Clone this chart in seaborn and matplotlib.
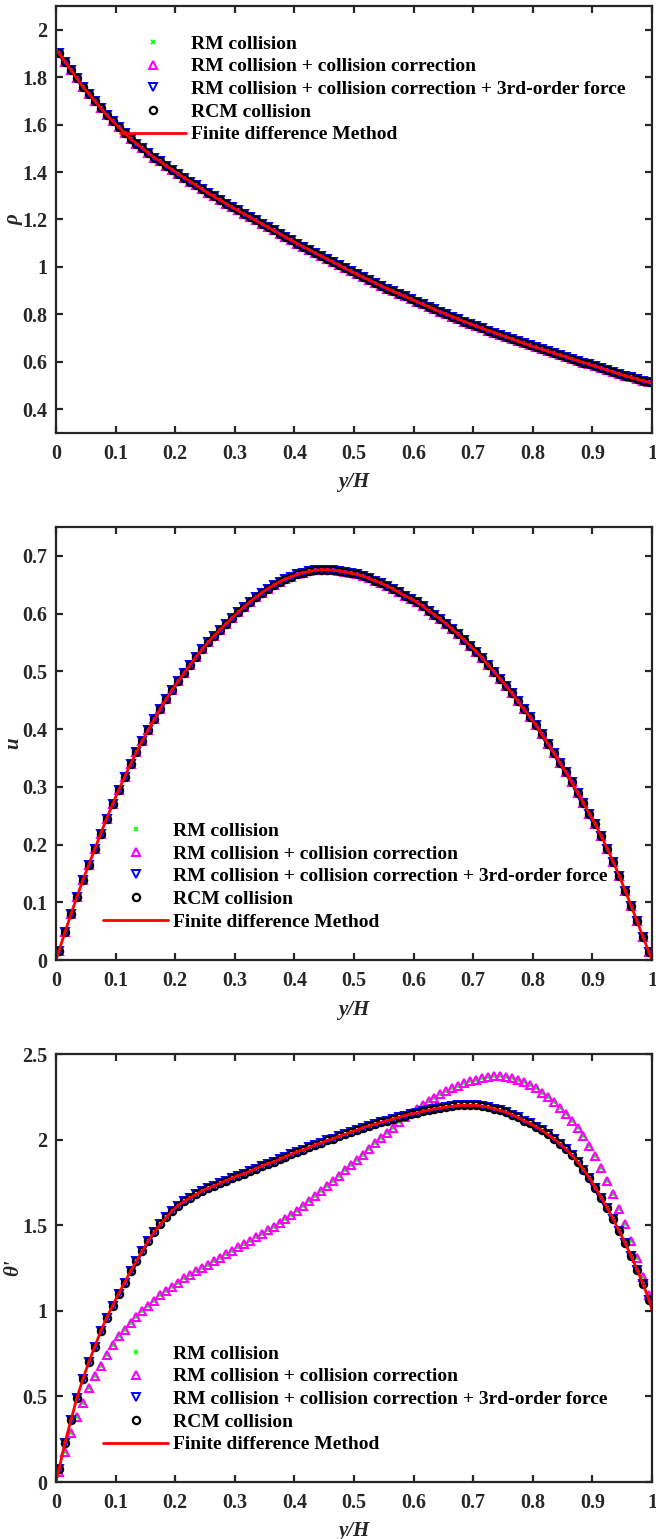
import numpy as np
import pandas as pd
import matplotlib
matplotlib.use("Agg")
import matplotlib.pyplot as plt
import seaborn as sns

# ---------------- data ----------------
# marker positions y/H (cell centres)
yh = (np.arange(100) + 0.5) / 100.0
walls = [0.0, 1.0]

series_labels = ["RM collision",
                 "RM collision + collision correction",
                 "RM collision + collision correction + 3rd-order force",
                 "RCM collision",
                 "Finite difference Method"]

rho = [1.900, 1.865, 1.830, 1.795, 1.760, 1.730, 1.700, 1.670, 1.640, 1.615,
       1.590, 1.565, 1.540, 1.520, 1.500, 1.480, 1.460, 1.445, 1.425, 1.410,
       1.392, 1.376, 1.360, 1.344, 1.328, 1.312, 1.297, 1.282, 1.267, 1.252,
       1.238, 1.224, 1.210, 1.196, 1.182, 1.168, 1.154, 1.140, 1.126, 1.112,
       1.098, 1.085, 1.072, 1.059, 1.046, 1.033, 1.020, 1.007, 0.994, 0.981,
       0.969, 0.957, 0.945, 0.933, 0.921, 0.909, 0.898, 0.887, 0.876, 0.865,
       0.854, 0.843, 0.832, 0.821, 0.810, 0.800, 0.790, 0.780, 0.770, 0.760,
       0.750, 0.741, 0.732, 0.723, 0.714, 0.705, 0.696, 0.687, 0.678, 0.669,
       0.661, 0.653, 0.645, 0.637, 0.629, 0.621, 0.613, 0.605, 0.597, 0.589,
       0.581, 0.573, 0.565, 0.557, 0.549, 0.541, 0.534, 0.527, 0.520, 0.513]
rho_wall = [1.92, 0.51]

u = [0.016, 0.048, 0.079, 0.109, 0.138, 0.165, 0.192, 0.219, 0.245, 0.270,
     0.294, 0.317, 0.339, 0.360, 0.380, 0.399, 0.417, 0.435, 0.452, 0.468,
     0.483, 0.497, 0.511, 0.525, 0.538, 0.550, 0.561, 0.572, 0.582, 0.592,
     0.602, 0.611, 0.620, 0.628, 0.636, 0.643, 0.649, 0.655, 0.660, 0.664,
     0.668, 0.671, 0.673, 0.675, 0.676, 0.676, 0.675, 0.674, 0.672, 0.670,
     0.668, 0.665, 0.661, 0.657, 0.653, 0.648, 0.643, 0.637, 0.631, 0.626,
     0.620, 0.613, 0.605, 0.598, 0.590, 0.582, 0.573, 0.564, 0.554, 0.544,
     0.534, 0.523, 0.511, 0.499, 0.487, 0.475, 0.462, 0.448, 0.434, 0.421,
     0.407, 0.391, 0.375, 0.359, 0.342, 0.326, 0.308, 0.290, 0.272, 0.253,
     0.235, 0.214, 0.193, 0.170, 0.146, 0.120, 0.094, 0.067, 0.040, 0.013]
u_wall = [0.0, 0.0]

theta = [0.074, 0.230, 0.360, 0.490, 0.600, 0.700, 0.790, 0.880, 0.960, 1.030,
         1.100, 1.165, 1.230, 1.290, 1.350, 1.410, 1.460, 1.505, 1.545, 1.585,
         1.615, 1.640, 1.660, 1.680, 1.700, 1.715, 1.730, 1.745, 1.760, 1.775,
         1.790, 1.800, 1.815, 1.830, 1.845, 1.860, 1.870, 1.885, 1.900, 1.915,
         1.930, 1.940, 1.955, 1.970, 1.980, 1.995, 2.005, 2.020, 2.030, 2.045,
         2.055, 2.070, 2.080, 2.090, 2.100, 2.110, 2.120, 2.130, 2.140, 2.150,
         2.155, 2.165, 2.170, 2.180, 2.185, 2.190, 2.195, 2.200, 2.200, 2.200,
         2.200, 2.195, 2.190, 2.180, 2.170, 2.160, 2.145, 2.130, 2.110, 2.095,
         2.075, 2.055, 2.030, 2.005, 1.975, 1.945, 1.910, 1.870, 1.825, 1.775,
         1.720, 1.660, 1.600, 1.535, 1.465, 1.395, 1.320, 1.240, 1.155, 1.065]
theta_corr = [0.060, 0.175, 0.285, 0.380, 0.460, 0.550, 0.620, 0.680, 0.740, 0.800,
              0.850, 0.890, 0.930, 0.965, 1.000, 1.030, 1.060, 1.090, 1.115, 1.140,
              1.165, 1.190, 1.210, 1.230, 1.250, 1.270, 1.290, 1.310, 1.330, 1.350,
              1.370, 1.390, 1.410, 1.430, 1.450, 1.470, 1.490, 1.510, 1.535, 1.560,
              1.585, 1.610, 1.640, 1.670, 1.700, 1.730, 1.760, 1.790, 1.820, 1.850,
              1.880, 1.910, 1.945, 1.980, 2.010, 2.040, 2.070, 2.100, 2.130, 2.155,
              2.180, 2.200, 2.225, 2.245, 2.265, 2.285, 2.300, 2.315, 2.330, 2.340,
              2.350, 2.360, 2.365, 2.370, 2.370, 2.365, 2.360, 2.350, 2.335, 2.320,
              2.300, 2.275, 2.250, 2.220, 2.185, 2.150, 2.110, 2.070, 2.020, 1.965,
              1.905, 1.835, 1.760, 1.680, 1.595, 1.505, 1.410, 1.310, 1.200, 1.090]
theta_wall = [0.0, 1.0]

xticks = [0, 0.1, 0.2, 0.3, 0.4, 0.5, 0.6, 0.7, 0.8, 0.9, 1]
xtick_labels = ["0", "0.1", "0.2", "0.3", "0.4", "0.5", "0.6", "0.7", "0.8", "0.9", "1"]
rho_ticks = [0.4, 0.6, 0.8, 1.0, 1.2, 1.4, 1.6, 1.8, 2.0]
rho_tick_labels = ["0.4", "0.6", "0.8", "1", "1.2", "1.4", "1.6", "1.8", "2"]
u_ticks = [0, 0.1, 0.2, 0.3, 0.4, 0.5, 0.6, 0.7]
u_tick_labels = ["0", "0.1", "0.2", "0.3", "0.4", "0.5", "0.6", "0.7"]
th_ticks = [0, 0.5, 1.0, 1.5, 2.0, 2.5]
th_tick_labels = ["0", "0.5", "1", "1.5", "2", "2.5"]

# ---------------- style ----------------
sns.set_theme(style="ticks")
plt.rcParams['font.family'] = ['Liberation Serif', 'DejaVu Serif']
plt.rcParams['font.weight'] = 'bold'
DARK = '#262626'

fig = plt.figure(figsize=(6.56, 15.39), dpi=100)
W, H = 656.0, 1539.0
left, right = 56, 652
panels = [(6, 433), (527, 960), (1054, 1482)]
axes = [fig.add_axes([left / W, 1 - b / H, (right - left) / W, (b - t) / H]) for t, b in panels]


def draw(ax, rm, corr, third, rcm, fd, fd_wall):
    mk = dict(linestyle='none', sort=False, estimator=None, legend=False)
    sns.lineplot(x=yh, y=rm, ax=ax, marker='x', markersize=3.5, markeredgewidth=1.2,
                 color='#00ff00', markeredgecolor='#00ff00', label=series_labels[0], **mk)
    sns.lineplot(x=yh, y=corr, ax=ax, marker='^', markersize=6.2, markeredgewidth=1.5,
                 color='#ff00ff', markerfacecolor='none', markeredgecolor='#ff00ff',
                 label=series_labels[1], **mk)
    sns.lineplot(x=yh, y=third, ax=ax, marker='v', markersize=5.8, markeredgewidth=1.4,
                 color='#0000ff', markerfacecolor='none', markeredgecolor='#0000ff',
                 label=series_labels[2], **mk)
    sns.lineplot(x=yh, y=rcm, ax=ax, marker='o', markersize=5.2, markeredgewidth=1.6,
                 color='black', markerfacecolor='none', markeredgecolor='black',
                 label=series_labels[3], **mk)
    xf = np.concatenate([[walls[0]], yh, [walls[1]]])
    yf = np.concatenate([[fd_wall[0]], fd, [fd_wall[1]]])
    sns.lineplot(x=xf, y=yf, ax=ax, color='#ff0000', linewidth=2.0, sort=False,
                 estimator=None, legend=False, label=series_labels[4])


draw(axes[0], rho, rho, rho, rho, rho, rho_wall)
draw(axes[1], u, u, u, u, u, u_wall)
draw(axes[2], theta_corr, theta_corr, theta, theta, theta, theta_wall)

ylims = [(0.3, 2.1), (0, 0.75), (0, 2.5)]
yticks = [(rho_ticks, rho_tick_labels), (u_ticks, u_tick_labels), (th_ticks, th_tick_labels)]
ylabels = ['ρ', 'u', "θ'"]
legend_anchor = [(0.108, 0.932), (0.079, 0.318), (0.079, 0.320)]

for i, ax in enumerate(axes):
    ax.set_xlim(0, 1)
    ax.set_ylim(*ylims[i])
    ax.set_xticks(xticks)
    ax.set_xticklabels(xtick_labels)
    ax.set_yticks(yticks[i][0])
    ax.set_yticklabels(yticks[i][1])
    for s in ax.spines.values():
        s.set_visible(True)
        s.set_color(DARK)
        s.set_linewidth(1.6)
    ax.tick_params(direction='in', length=5, width=1.6, top=True, right=True,
                   colors=DARK, labelsize=14.5)
    ax.tick_params(axis='x', pad=8)
    ax.tick_params(axis='y', pad=6)
    for lab in ax.get_xticklabels() + ax.get_yticklabels():
        lab.set_fontweight('bold')
        lab.set_color(DARK)
    ax.set_xlabel('y/H', fontsize=15, fontweight='bold', style='italic', color=DARK)
    ax.xaxis.set_label_coords(0.5, -0.092)
    ax.set_ylabel(ylabels[i], fontsize=15, fontweight='bold', style='italic', color=DARK)
    ax.yaxis.set_label_coords(-0.055, 0.5)
    leg = ax.legend(loc='upper left', bbox_to_anchor=legend_anchor[i], frameon=False,
                    handlelength=3.35, handletextpad=0.26, labelspacing=0.26,
                    borderaxespad=0, borderpad=0, numpoints=1,
                    prop=dict(weight='bold', size=14))
    for t in leg.get_texts():
        t.set_color('black')

fig.savefig('out.png', dpi=100)
